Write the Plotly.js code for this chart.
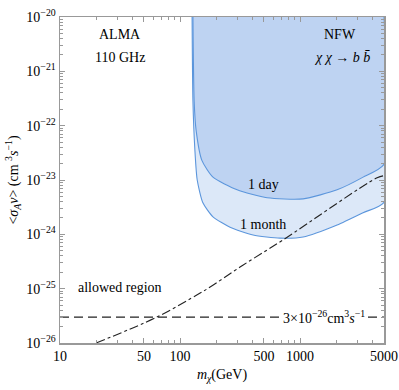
<!DOCTYPE html>
<html>
<head>
<meta charset="utf-8">
<script src="https://cdn.plot.ly/plotly-3.0.1.min.js"></script>
<style>
  html, body { margin: 0; padding: 0; background: #fff; }
  #grafica { width: 399px; height: 390px; }
</style>
</head>
<body>
<div id="grafica"></div>
<script>
// datos (m en GeV, sigma v en cm^3/s)
const mDia = [128, 131, 136, 152, 188, 299, 531, 1059, 2034, 3350, 5000];
const svDia = [1e-20, 2.9e-22, 8.3e-23, 2.3e-23, 1.13e-23, 6.6e-24, 4.7e-24, 4.5e-24, 6.6e-24, 1.13e-23, 1.95e-23];

const mMes = [126, 128, 133, 139, 155, 188, 261, 406, 681, 1059, 2034, 3350, 5000];
const svMes = [1e-20, 2.9e-22, 3.5e-23, 1e-23, 3.8e-24, 2.1e-24, 1.35e-24, 9.7e-25, 8.5e-25, 8.9e-25, 1.48e-24, 2.5e-24, 3.9e-24];

const mLinea = [20, 64, 147, 178, 316, 721, 4383, 5000];
const svLinea = [1e-26, 3e-26, 8.3e-26, 1.07e-25, 2.5e-25, 7.9e-25, 1.1e-23, 1.2e-23];

const mTermica = [10, 5000];
const svTermica = [3e-26, 3e-26];

const xTicks = [10, 50, 100, 500, 1000, 5000];
const yExp = [-26, -25, -24, -23, -22, -21, -20];

const xMin = 10, xMax = 5000, yMin = 1e-26, yMax = 1e-20;

const azulLinea = "rgb(92,150,220)";

function minorLog(a, b) {
  const out = [];
  for (let d = a; d < b; d++) {
    for (let k = 2; k <= 9; k++) out.push(k * Math.pow(10, d));
  }
  return out;
}

const traceMes = {
  x: mMes.concat([xMax]),
  y: svMes.concat([yMax]),
  type: "scatter", mode: "lines",
  fill: "toself", fillcolor: "rgb(220,232,248)",
  line: { color: azulLinea, width: 1.1, shape: "spline", smoothing: 0.6 },
  hoverinfo: "skip"
};

const traceDia = {
  x: mDia.concat([xMax]),
  y: svDia.concat([yMax]),
  type: "scatter", mode: "lines",
  fill: "toself", fillcolor: "rgb(190,211,242)",
  line: { color: azulLinea, width: 1.1, shape: "spline", smoothing: 0.6 },
  hoverinfo: "skip"
};

const traceLinea = {
  x: mLinea, y: svLinea,
  type: "scatter", mode: "lines",
  line: { color: "#222", width: 1.1, dash: "dashdot", shape: "spline" },
  hoverinfo: "skip"
};

const traceTermica = {
  x: mTermica, y: svTermica,
  type: "scatter", mode: "lines",
  line: { color: "#222", width: 1.1, dash: "9px,5px" },
  hoverinfo: "skip"
};

const fuente = { family: "Liberation Serif", size: 14, color: "#000" };

const ejeComun = {
  type: "log",
  showline: true, linecolor: "#999", linewidth: 1.5,
  mirror: "ticks",
  ticks: "inside", ticklen: 5, tickcolor: "#999", tickwidth: 1,
  showgrid: false, zeroline: false,
  tickfont: fuente
};

const layout = {
  width: 399, height: 390,
  margin: { l: 60, r: 15, t: 17, b: 47 },
  paper_bgcolor: "#fff", plot_bgcolor: "#fff",
  showlegend: false,
  font: fuente,
  xaxis: Object.assign({}, ejeComun, {
    range: [Math.log10(xMin), Math.log10(xMax)],
    tickvals: xTicks,
    ticktext: xTicks.map(String),
    minor: { tickvals: minorLog(1, 4).filter(v => v < xMax && xTicks.indexOf(v) < 0), ticks: "inside", ticklen: 3, tickcolor: "#999" },
    title: { text: "<i>m</i><sub><i>χ</i></sub>(GeV)", font: fuente, standoff: 6 }
  }),
  yaxis: Object.assign({}, ejeComun, {
    range: [Math.log10(yMin), Math.log10(yMax)],
    tickvals: yExp.map(e => Math.pow(10, e)),
    ticktext: yExp.map(e => "10<sup>−" + Math.abs(e) + "</sup>"),
    minor: { tickvals: minorLog(-26, -20), ticks: "inside", ticklen: 3, tickcolor: "#999" },
    title: { text: "&lt;<i>σ</i><sub><i>A</i></sub><i>v</i>&gt; (cm <sup>3</sup><i>s</i><sup>−1</sup>)", font: fuente, standoff: 4 }
  }),
  annotations: [
    { text: "ALMA", x: 0.185, y: 0.945 },
    { text: "110 GHz", x: 0.185, y: 0.877 },
    { text: "NFW", x: 0.864, y: 0.945 },
    { text: "<i>χ χ</i> → <i>b</i> <i>b̄</i>", x: 0.87, y: 0.877 },
    { text: "1 day", x: 0.627, y: 0.485 },
    { text: "1 month", x: 0.627, y: 0.365 },
    { text: "allowed region", x: 0.185, y: 0.169 },
    { text: "3×10<sup>−26</sup>cm<sup>3</sup><i>s</i><sup>−1</sup>", x: 0.815, y: 0.08, bgcolor: "#fff", borderpad: 1 }
  ].map(a => Object.assign({ xref: "paper", yref: "paper", showarrow: false, font: fuente, xanchor: "center", yanchor: "middle" }, a))
};

Plotly.newPlot("grafica", [traceMes, traceDia, traceLinea, traceTermica], layout, { displayModeBar: false, staticPlot: true });
</script>
</body>
</html>
